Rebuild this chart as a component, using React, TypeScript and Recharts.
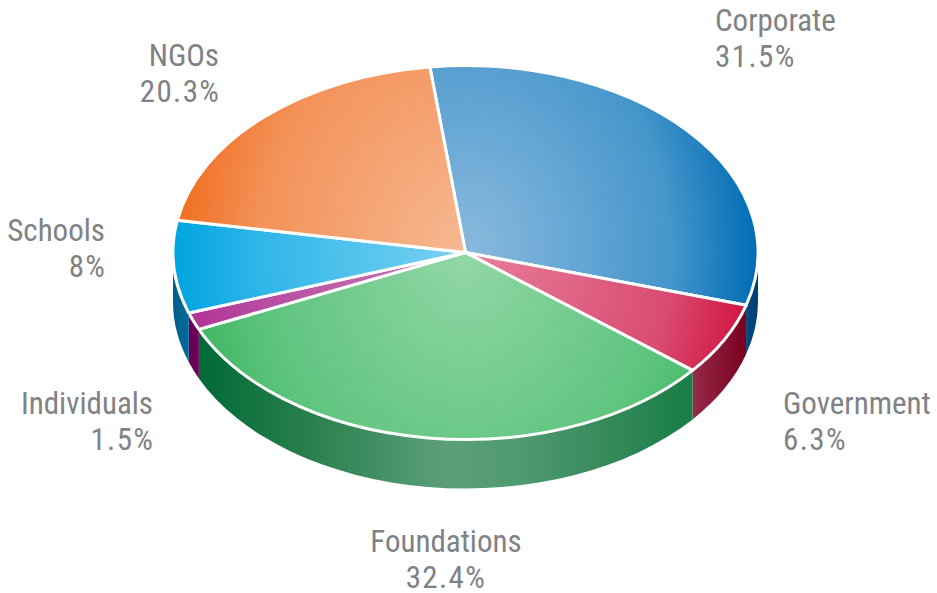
import React from 'react';
import { PieChart, Pie } from 'recharts';

const categories = ['Corporate', 'Government', 'Foundations', 'Individuals', 'Schools', 'NGOs'];
const shares = [31.5, 6.3, 32.4, 1.5, 8, 20.3];
const shareLabels = ['31.5%', '6.3%', '32.4%', '1.5%', '8%', '20.3%'];
const rows = categories.map((name, i) => ({ name, value: shares[i], label: shareLabels[i] }));

const W = 937, H = 593, CX = 465.5, CY = 252.5, RX = 292.5, RY = 187, DEPTH = 49;
const START = 97.0;
const FONT = '"Liberation Sans Narrow", "Roboto Condensed", Roboto, sans-serif';

const topCenter = ['#8abadd', '#e87f9b', '#92d7a6', '#c77fb8', '#7ad2f2', '#f7b892'];
const topMid = ['#4696cc', '#d94c72', '#5ec47d', '#b84da2', '#30b6e8', '#f39259'];
const topEdge = ['#006cb5', '#d2103c', '#38b35e', '#b02f96', '#00a4e0', '#f16d1f'];
const sideStops: string[][] = [
  ['#004a80', '#003e72'],
  ['#962a48', '#7a0020'],
  ['#006a35', '#2e8250', '#4d9670', '#5b9f79', '#4f9a70', '#3a8c5d', '#187d45'],
  ['#6b0058', '#6b0058'],
  ['#005f8c', '#006a98'],
  ['#c05a18', '#c05a18'],
];
const foundationOffsets = [0, 0.25, 0.42, 0.5, 0.65, 0.8, 1];
const labelX = [715, 783, 446, 153, 105, 219];
const labelY = [31, 414, 552, 414, 241, 66];
const labelAnchor = ['start', 'start', 'middle', 'end', 'end', 'end'];

const pt = (deg: number, dy = 0) => {
  const a = (deg * Math.PI) / 180;
  return [CX + RX * Math.cos(a), CY - RY * Math.sin(a) + dy];
};

const PieSlice = (props: any) => {
  const { startAngle, endAngle } = props;
  const index = categories.indexOf(props.name ?? props.payload?.name);
  const [x1, y1] = pt(startAngle);
  const [x2, y2] = pt(endAngle);
  const large = Math.abs(startAngle - endAngle) > 180 ? 1 : 0;
  const top = `M${CX},${CY} L${x1},${y1} A${RX},${RY} 0 ${large} 1 ${x2},${y2} Z`;

  // visible front wall: the part of the slice that lies in the lower half of the ellipse
  const hi = ((startAngle % 360) + 360) % 360;
  const span = startAngle - endAngle;
  const lo = hi - span;
  let side: string | null = null;
  let sx0 = 0, sx1 = 0;
  const from = Math.min(hi > 180 ? hi : hi + 360, 360);
  const to = Math.max(hi > 180 ? lo : lo + 360, 180);
  if (from > to) {
    const [ax, ay] = pt(from);
    const [bx, by] = pt(to);
    side = `M${ax},${ay} A${RX},${RY} 0 0 1 ${bx},${by} L${bx},${by + DEPTH} A${RX},${RY} 0 0 0 ${ax},${ay + DEPTH} Z`;
    sx0 = Math.min(ax, bx);
    sx1 = Math.max(ax, bx);
  }
  const stops = sideStops[index];
  return (
    <g>
      {side && (
        <>
          <defs>
            <linearGradient id={`side${index}`} gradientUnits="userSpaceOnUse" x1={sx0} x2={sx1} y1={0} y2={0}>
              {stops.map((c, i) => (
                <stop
                  key={i}
                  offset={stops.length > 2 ? foundationOffsets[i] : i}
                  stopColor={c}
                />
              ))}
            </linearGradient>
          </defs>
          <path d={side} fill={`url(#side${index})`} />
        </>
      )}
      <path d={top} fill={`url(#top${index})`} stroke="#fff" strokeWidth={3} strokeLinejoin="round" />
    </g>
  );
};

const SliceLabel = (props: any) => {
  const i = props.index;
  const nudge = labelAnchor[i] === 'end' ? 1.4 : 0;
  return (
    <text fontFamily={FONT} fontSize={31} fill="#808285" textAnchor={labelAnchor[i] as any}>
      <tspan x={labelX[i]} y={labelY[i]}>{categories[i]}</tspan>
      <tspan x={labelX[i] + nudge} y={labelY[i] + 36} letterSpacing={1.4}>{rows[i].label}</tspan>
    </text>
  );
};

export default function App() {
  return (
    <div style={{ position: 'absolute', left: 0, top: 0, width: W, height: H }}>
      <PieChart width={W} height={H} margin={{ top: 0, right: 0, bottom: 0, left: 0 }}>
        <defs>
          {categories.map((_, i) => (
            <radialGradient
              key={i}
              id={`top${i}`}
              gradientUnits="userSpaceOnUse"
              cx={0}
              cy={0}
              r={1}
              gradientTransform={`translate(${CX} ${CY}) scale(${RX} ${RY * 1.9})`}
            >
              <stop offset={0} stopColor={topCenter[i]} />
              <stop offset={0.7} stopColor={topMid[i]} />
              <stop offset={1} stopColor={topEdge[i]} />
            </radialGradient>
          ))}
        </defs>
        <Pie
          data={rows}
          dataKey="value"
          nameKey="name"
          cx={CX}
          cy={CY}
          innerRadius={0}
          outerRadius={RX}
          startAngle={START}
          endAngle={START - 360}
          paddingAngle={0}
          stroke="none"
          shape={PieSlice}
          label={SliceLabel}
          labelLine={false}
          isAnimationActive={false}
        />
      </PieChart>
    </div>
  );
}
